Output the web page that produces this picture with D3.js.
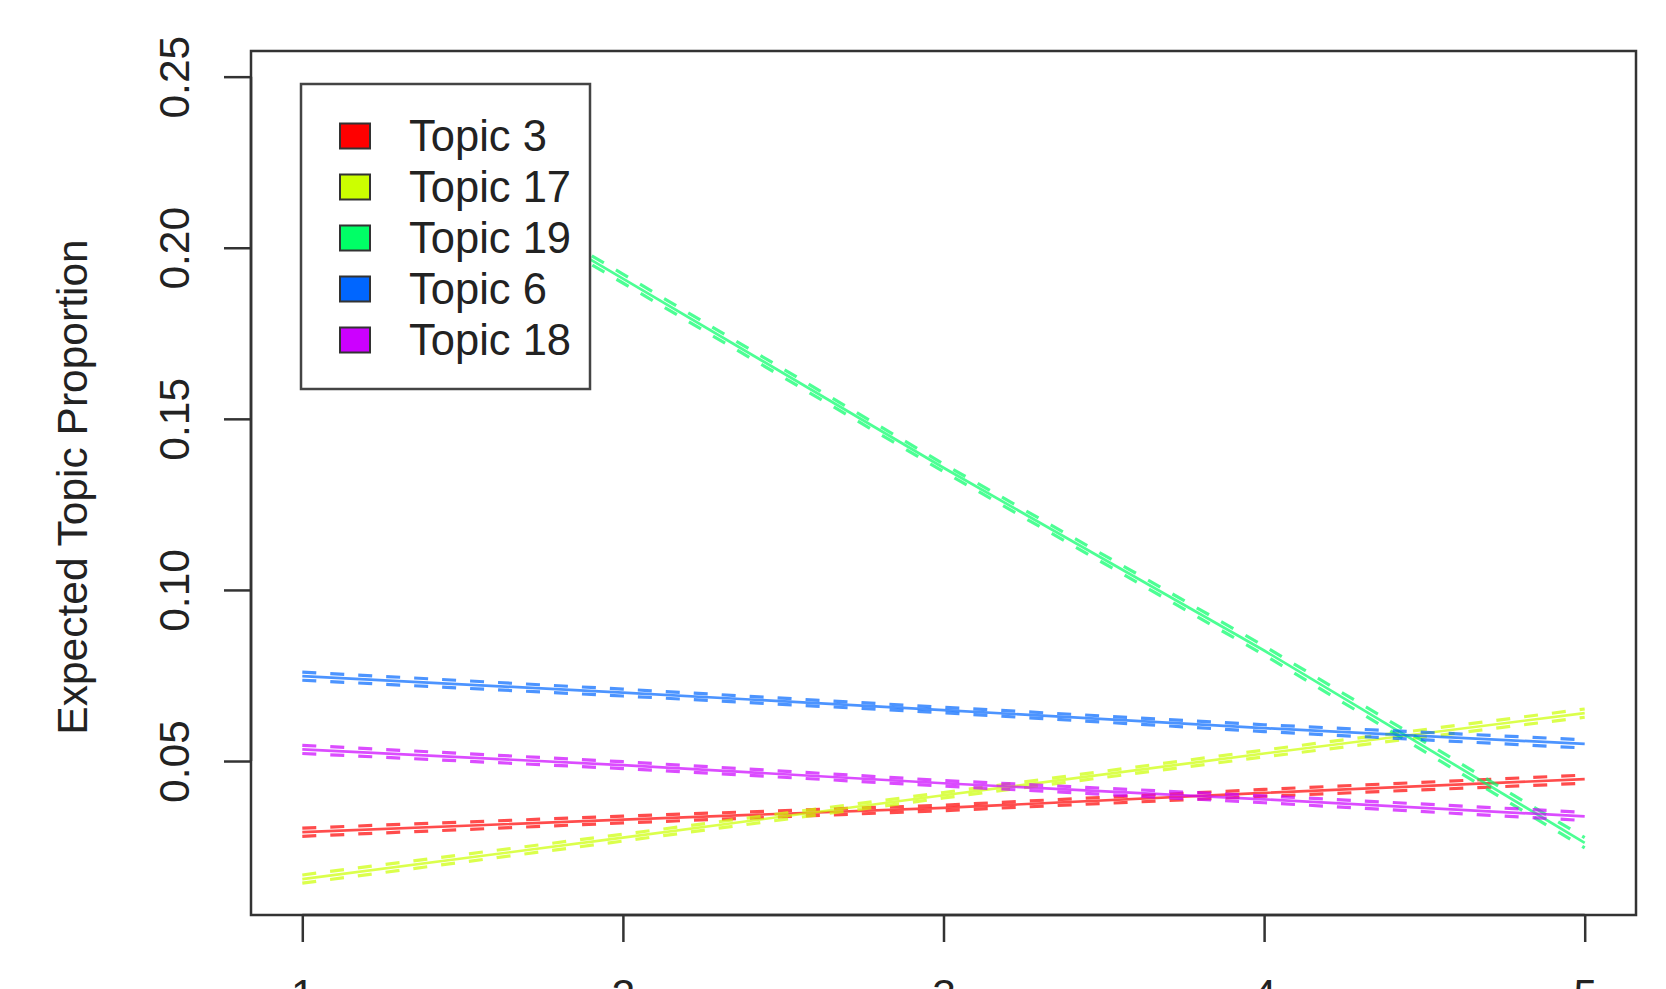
<!DOCTYPE html>
<html>
<head>
<meta charset="utf-8">
<script src="https://cdn.jsdelivr.net/npm/d3@7"></script>
<style>
html,body{margin:0;padding:0;background:#fff;overflow:hidden;}
svg{display:block;}
text{font-family:"Liberation Sans",Arial,sans-serif;fill:#222;}
</style>
</head>
<body>
<svg id="chart" width="1666" height="989"></svg>
<script>
// ---- data ----
const xValues = [1, 2, 3, 4, 5];
const topicNames = ["Topic 3", "Topic 17", "Topic 19", "Topic 6", "Topic 18"];
const topicColors = ["#FF0000", "#CCFF00", "#00FF66", "#0066FF", "#CC00FF"];
const topic3  = [0.0292, 0.0329, 0.0363, 0.0407, 0.0447];
const topic17 = [0.0155, 0.0276, 0.0400, 0.0522, 0.0640];
const topic19 = [0.2460, 0.1910, 0.1357, 0.0823, 0.0261];
const topic6  = [0.0748, 0.0700, 0.0649, 0.0596, 0.0550];
const topic18 = [0.0534, 0.0488, 0.0435, 0.0388, 0.0338];
// confidence half-widths
const ci3  = [0.0012, 0.0010, 0.0008, 0.0010, 0.0012];
const ci17 = [0.0012, 0.0010, 0.0008, 0.0010, 0.0012];
const ci19 = [0.0015, 0.0013, 0.0011, 0.0013, 0.0015];
const ci6  = [0.0012, 0.0010, 0.0008, 0.0010, 0.0012];
const ci18 = [0.0012, 0.0010, 0.0008, 0.0010, 0.0012];
const yTicks = [0.05, 0.10, 0.15, 0.20, 0.25];
const yTickLabels = ["0.05", "0.10", "0.15", "0.20", "0.25"];
const xTicks = [1, 2, 3, 4, 5];
const yLabel = "Expected Topic Proportion";

const series = [topic3, topic17, topic19, topic6, topic18];
const cis = [ci3, ci17, ci19, ci6, ci18];

// ---- layout ----
const svg = d3.select("#chart");
const plot = {left: 251, right: 1636, top: 51, bottom: 915};
const x = d3.scaleLinear().domain([0.84, 5.16]).range([plot.left, plot.right]);
const y = d3.scaleLinear().domain([0.005, 0.2575]).range([plot.bottom, plot.top]);
const FS = 42.5;
const LFS = 43.5;
const axisColor = "#333";

const gLines = svg.append("g").attr("fill", "none");
const line = d3.line().x(d => x(d[0])).y(d => y(d[1]));

series.forEach((vals, i) => {
  const col = topicColors[i];
  const mean = xValues.map((xv, j) => [xv, vals[j]]);
  const upper = xValues.map((xv, j) => [xv, vals[j] + cis[i][j]]);
  const lower = xValues.map((xv, j) => [xv, vals[j] - cis[i][j]]);
  const g = gLines.append("g").attr("stroke", col).attr("stroke-opacity", 0.7);
  g.append("path").attr("d", line(mean)).attr("stroke-width", 2.7);
  [upper, lower].forEach(pts => {
    g.append("path").attr("d", line(pts)).attr("stroke-width", 3.2)
      .attr("stroke-dasharray", "14,14");
  });
});

// plot box
svg.append("rect")
  .attr("x", plot.left).attr("y", plot.top)
  .attr("width", plot.right - plot.left).attr("height", plot.bottom - plot.top)
  .attr("fill", "none").attr("stroke", axisColor).attr("stroke-width", 2.5);

// y axis
const yAxis = d3.axisLeft(y).tickValues(yTicks).tickSize(27)
  .tickFormat((d, i) => yTickLabels[i]);
const gy = svg.append("g").attr("transform", `translate(${plot.left},0)`).call(yAxis);
gy.select(".domain").attr("stroke", axisColor).attr("stroke-width", 2.5)
  .attr("d", `M0,${y(yTicks[0])}V${y(yTicks[yTicks.length-1])}`);
gy.selectAll(".tick line").attr("stroke", axisColor).attr("stroke-width", 2.5);
gy.selectAll(".tick text")
  .attr("x", null).attr("dy", null)
  .attr("transform", "translate(-62,0) rotate(-90)")
  .attr("text-anchor", "middle")
  .style("font-size", FS + "px")
  .style("font-family", '"Liberation Sans",Arial,sans-serif')
  .attr("fill", "#222");

// x axis
const xAxis = d3.axisBottom(x).tickValues(xTicks).tickSize(27).tickFormat(d3.format("d"));
const gx = svg.append("g").attr("transform", `translate(0,${plot.bottom})`).call(xAxis);
gx.select(".domain").attr("stroke", axisColor).attr("stroke-width", 2.5)
  .attr("d", `M${x(xTicks[0])},0H${x(xTicks[xTicks.length-1])}`);
gx.selectAll(".tick line").attr("stroke", axisColor).attr("stroke-width", 2.5);
gx.selectAll(".tick text")
  .attr("y", 94).attr("dy", null)
  .style("font-size", FS + "px")
  .style("font-family", '"Liberation Sans",Arial,sans-serif')
  .attr("fill", "#222");

// y label
svg.append("text")
  .attr("transform", `translate(87,${(plot.top + plot.bottom) / 2 + 4}) rotate(-90)`)
  .attr("text-anchor", "middle")
  .style("font-size", FS + "px")
  .text(yLabel);

// legend
const leg = svg.append("g");
leg.append("rect").attr("x", 301).attr("y", 84).attr("width", 289).attr("height", 305)
  .attr("fill", "#fff").attr("stroke", "#444").attr("stroke-width", 2.5);
topicNames.forEach((name, i) => {
  const cy = 136 + i * 51;
  leg.append("rect").attr("x", 340).attr("y", cy - 12.5).attr("width", 30).attr("height", 25)
    .attr("fill", topicColors[i]).attr("stroke", "#333").attr("stroke-width", 2);
  leg.append("text").attr("x", 409).attr("y", cy).attr("dy", "0.35em")
    .style("font-size", LFS + "px").text(name);
});
</script>
</body>
</html>
